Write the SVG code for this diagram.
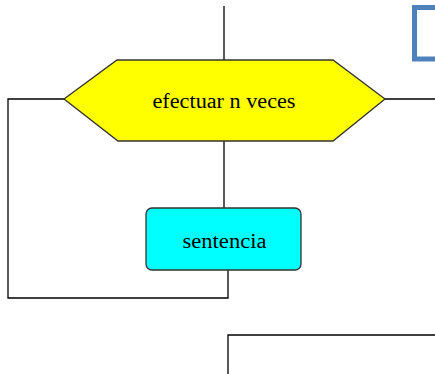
<svg xmlns="http://www.w3.org/2000/svg" width="435" height="374" viewBox="0 0 435 374">
<style>
.ln{fill:none;stroke:#000;stroke-width:1.3}
.lbl{font-family:"Liberation Serif","Times New Roman",serif;font-size:20px;fill:#000;text-anchor:middle}
</style>
<rect width="435" height="374" fill="#fff"/>
<g id="connectors">
<polyline class="ln" points="224,6 224,60"/>
<polyline class="ln" points="64,99 8,99 8,298 228,298 228,270"/>
<polyline class="ln" points="385,99 435,99"/>
<polyline class="ln" points="224,141 224,208"/>
<polyline class="ln" points="228,374 228,335 435,335"/>
</g>
<g id="loop">
<polygon points="117,60 333,60 385,99 333,141 118,141 64,99" fill="#ffff00" stroke="#333" stroke-width="1.3"/>
<text class="lbl" x="224" y="108" textLength="143" lengthAdjust="spacingAndGlyphs">efectuar n veces</text>
</g>
<g id="sentencia">
<rect x="146" y="208" width="155" height="62" rx="6" fill="#00ffff" stroke="#333" stroke-width="1.3"/>
<text class="lbl" x="224.5" y="248" textLength="84" lengthAdjust="spacingAndGlyphs">sentencia</text>
</g>
<g id="frame">
<rect x="414.5" y="7.5" width="40" height="51.5" fill="none" stroke="#4f81bd" stroke-width="5"/>
</g>
</svg>
